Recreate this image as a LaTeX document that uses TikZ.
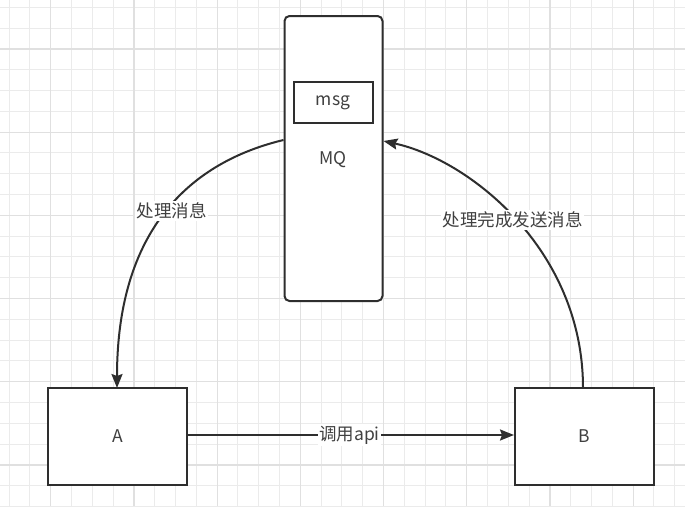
\documentclass[tikz,border=0pt]{standalone}
\usepackage{fontspec}
\setmainfont{Noto Sans CJK SC}
\usetikzlibrary{arrows.meta}
\definecolor{linec}{HTML}{2E2E2E}
\definecolor{textc}{HTML}{404040}
\definecolor{gridminor}{HTML}{EBEBEB}
\definecolor{gridmajor}{HTML}{E0E0E0}
\tikzset{
  box/.style={draw=linec, line width=2pt, fill=white, inner sep=0pt},
  lbl/.style={text=textc, font=\fontsize{17.5}{20}\selectfont},
  elabel/.style={lbl, fill=white, inner sep=1.5pt},
  conn/.style={draw=linec, line width=2pt, -{Stealth[length=14pt,width=11pt,inset=2pt]}},
  minorgrid/.style={draw=gridminor, line width=1pt},
  majorgrid/.style={draw=gridmajor, line width=1.2pt}
}
\begin{document}
\begin{tikzpicture}[x=1pt,y=-1pt]
\useasboundingbox (0,0) rectangle (685,506);
\fill[white] (0,0) rectangle (685,506);
% grid
\foreach \i in {0,...,32} {
  \draw[minorgrid] ({9+20.8*\i},0) -- ({9+20.8*\i},506);
}
\foreach \i in {0,...,24} {
  \draw[minorgrid] (0,{7.2+20.8*\i}) -- (685,{7.2+20.8*\i});
}
\foreach \i in {0,...,7} {
  \draw[majorgrid] ({50.7+83.2*\i},0) -- ({50.7+83.2*\i},506);
}
\foreach \i in {0,...,5} {
  \draw[majorgrid] (0,{49+83.2*\i}) -- (685,{49+83.2*\i});
}
% MQ
\node[box, rounded corners=5pt, minimum width=98pt, minimum height=285pt] (mq) at (333.5,158.5) {};
\node[box, minimum width=79pt, minimum height=41pt, lbl] (msg) at (333,102.5) {msg};
\node[lbl] (mqt) at (333,160) {MQ};
% A and B
\node[box, minimum width=139pt, minimum height=97pt, lbl] (a) at (117.5,436.5) {A};
\node[box, minimum width=139pt, minimum height=97pt, lbl] (b) at (584.5,436.5) {B};
% connectors
\coordinate (mqL) at (mq.west |- 0,140);
\coordinate (mqR) at (mq.east |- 0,141);
\coordinate (aT) at (117,388);
\coordinate (bT) at (583,388);
\draw[conn] (mqL) .. controls (200,160) and (117,220) .. (aT);
\draw[conn] (bT) .. controls (583,250) and (470,160) .. (mqR);
\draw[conn] (a.east |- 0,435) -- (b.west |- 0,435);
% labels
\node[elabel] (l1) at (171.5,211) {处理消息};
\node[elabel] (l2) at (512.5,220) {处理完成发送消息};
\node[elabel] (l3) at (349.5,435) {调用api};
\end{tikzpicture}
\end{document}
